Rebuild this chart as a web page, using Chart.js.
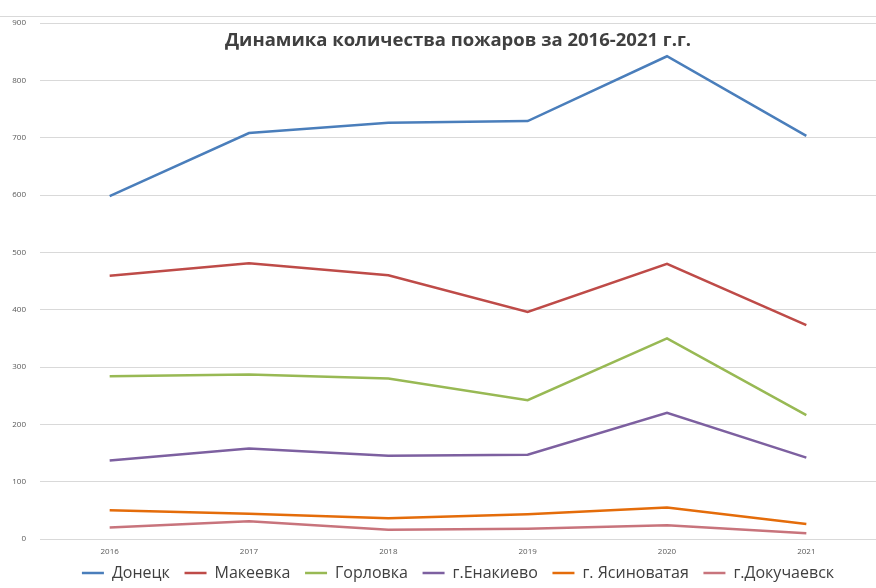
<!DOCTYPE html>
<html>
<head>
<meta charset="utf-8">
<script src="https://cdn.jsdelivr.net/npm/chart.js@4/dist/chart.umd.min.js"></script>
<style>
  html, body { margin: 0; padding: 0; background: #ffffff; }
  #wrap { width: 876px; height: 588px; position: relative; }
</style>
</head>
<body>
<div id="wrap"><canvas id="c" width="876" height="588"></canvas></div>
<script>
const titleText = 'Динамика количества пожаров за 2016-2021 г.г.';
const years = ['2016', '2017', '2018', '2019', '2020', '2021'];
const seriesNames = ['Донецк', 'Макеевка', 'Горловка', 'г.Енакиево', 'г. Ясиноватая', 'г.Докучаевск'];
const donetsk = [598, 708, 726, 729, 842, 703];
const makeevka = [459, 481, 460, 396, 480, 373];
const gorlovka = [284, 287, 280, 242, 350, 216];
const enakievo = [137, 158, 145, 147, 220, 142];
const yasinovataya = [50, 44, 36, 43, 55, 26];
const dokuchaevsk = [20, 31, 16, 18, 24, 10];
const colors = ['#4a7ebb', '#be4b48', '#98b954', '#7d60a0', '#e46c0a', '#c8747c'];
const yTicks = [0, 100, 200, 300, 400, 500, 600, 700, 800, 900];

const allValues = [donetsk, makeevka, gorlovka, enakievo, yasinovataya, dokuchaevsk];

const datasets = allValues.map((vals, i) => ({
  label: seriesNames[i],
  data: vals,
  borderColor: colors[i],
  backgroundColor: colors[i],
  borderWidth: 2.5,
  pointRadius: 0,
  pointHoverRadius: 0,
  tension: 0,
  pointStyle: 'line'
}));

const overlayTitle = {
  id: 'overlayTitle',
  afterDraw(chart) {
    const ctx = chart.ctx;
    const a = chart.chartArea;
    ctx.save();
    ctx.strokeStyle = '#d9d9d9';
    ctx.lineWidth = 1;
    ctx.beginPath();
    ctx.moveTo(0, 16.5);
    ctx.lineTo(chart.width, 16.5);
    ctx.stroke();
    ctx.fillStyle = '#404040';
    ctx.font = 'bold 18.5px "Open Sans"';
    ctx.textAlign = 'center';
    ctx.textBaseline = 'middle';
    ctx.fillText(titleText, (a.left + a.right) / 2, 41);
    ctx.restore();
  }
};

new Chart(document.getElementById('c'), {
  type: 'line',
  data: { labels: years, datasets },
  options: {
    responsive: false,
    animation: false,
    layout: { padding: { top: 23, right: 0, bottom: -3, left: 0 } },
    plugins: {
      title: { display: false },
      tooltip: { enabled: false },
      legend: {
        position: 'bottom',
        fullSize: false,
        labels: {
          usePointStyle: true,
          pointStyleWidth: 22,
          padding: 4,
          color: '#404040',
          font: { family: '"Open Sans"', size: 16 },
          generateLabels(chart) {
            const items = Chart.defaults.plugins.legend.labels.generateLabels(chart);
            items.forEach((it, i) => {
              if (i < items.length - 1) it.text = it.text + '\u2002\u2009';
            });
            return items;
          }
        }
      }
    },
    scales: {
      x: {
        offset: true,
        grid: { display: false, drawTicks: false },
        border: { display: false },
        ticks: { color: '#595959', font: { family: '"Open Sans"', size: 8 }, padding: 8, maxRotation: 0 },
        afterFit(s) { s.height = 22; }
      },
      y: {
        min: 0,
        max: 900,
        afterBuildTicks(s) { s.ticks = yTicks.map(v => ({ value: v })); },
        grid: { color: '#d9d9d9', lineWidth: 1, drawTicks: false },
        border: { display: false },
        ticks: { color: '#595959', font: { family: '"Open Sans"', size: 8 }, padding: 14 },
        afterFit(s) { s.width = 40; }
      }
    }
  },
  plugins: [overlayTitle]
});
</script>
</body>
</html>
